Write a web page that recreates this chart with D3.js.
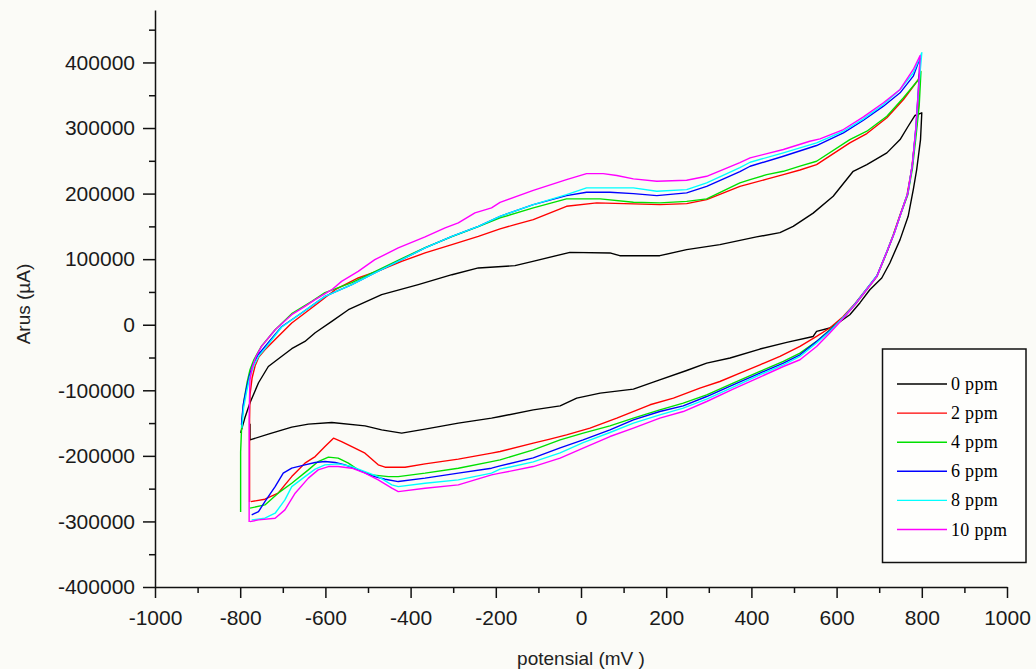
<!DOCTYPE html>
<html>
<head>
<meta charset="utf-8">
<script src="https://cdn.jsdelivr.net/npm/d3@7/dist/d3.min.js"></script>
<style>
  html, body { margin: 0; padding: 0; background: #fbfbf7; }
  svg { display: block; }
</style>
</head>
<body>
<svg id="chart" width="1036" height="669"></svg>
<script>
// Cyclic voltammograms: potential (mV) vs current (µA), one closed loop per concentration
const seriesNames = ["0 ppm", "2 ppm", "4 ppm", "6 ppm", "8 ppm", "10 ppm"];
const seriesColors = ["#000000", "#ff0000", "#00e000", "#0000ff", "#00ffff", "#ff00ff"];

const xTicks = [-1000, -800, -600, -400, -200, 0, 200, 400, 600, 800, 1000];
const xMinorTicks = [-900, -700, -500, -300, -100, 100, 300, 500, 700, 900];
const yTicks = [-400000, -300000, -200000, -100000, 0, 100000, 200000, 300000, 400000];
const yMinorTicks = [-350000, -250000, -150000, -50000, 50000, 150000, 250000, 350000, 450000];

// [potential mV, current µA]: forward scan, then reverse scan
const ppm0 = [[-799,-165000],[-789,-142000],[-777,-119000],[-757,-88500],[-734,-63700],[-707,-50400],[-679,-36600],[-648,-25500],[-624,-12200],[-585,5000],[-546,22900],[-468,45800],[-382,61100],[-303,76300],[-241,86600],[-155,90100],[-113,96600],[-26,110400],[68,109500],[91,105300],[185,105300],[248,114500],[326,122100],[412,133900],[467,140500],[498,150100],[545,170200],[592,195900],[639,234000],[671,244300],[718,262100],[749,282400],[768,302700],[784,319100],[800,323200],
  [797,282400],[788,236600],[780,206100],[768,165300],[749,129800],[725,94200],[706,71300],[678,53400],[655,33600],[631,15300],[608,4600],[584,-5000],[553,-10200],[545,-17900],[483,-27000],[420,-37100],[350,-50800],[295,-58500],[248,-69800],[178,-85500],[123,-98200],[45,-104300],[-10,-111900],[-49,-123700],[-112,-129800],[-190,-140000],[-210,-142400],[-288,-150100],[-366,-159200],[-421,-165300],[-468,-160300],[-507,-154200],[-585,-149200],[-640,-151600],[-679,-156200],[-734,-166900],[-777,-175600],[-777,-151100]];

const ppm2 = [[-778,-270200],[-778,-145000],[-777,-106900],[-772,-80900],[-765,-62600],[-756,-48900],[-742,-38200],[-711,-17900],[-679,2600],[-617,33100],[-577,53400],[-523,71300],[-468,84000],[-421,96600],[-366,109500],[-303,122100],[-241,134800],[-190,146100],[-155,152700],[-112,160300],[-34,180600],[37,185800],[123,184300],[185,183200],[248,184700],[295,190800],[373,211100],[397,215300],[436,222000],[475,229000],[514,236000],[553,244300],[631,277400],[671,291600],[718,315600],[757,343500],[792,374000],[796,386700],
  [792,330000],[784,282400],[776,236600],[765,196900],[749,167900],[733,137400],[718,111400],[694,73700],[669,53400],[643,32100],[615,12200],[584,-5000],[553,-17900],[514,-33100],[467,-48400],[420,-61100],[373,-73700],[326,-86600],[279,-96600],[217,-111900],[162,-122100],[84,-142400],[21,-157700],[-34,-167900],[-73,-174500],[-112,-180600],[-190,-193400],[-210,-195900],[-288,-205000],[-366,-212200],[-413,-217300],[-460,-217300],[-476,-213700],[-507,-195900],[-538,-185800],[-562,-178200],[-581,-173000],[-601,-185800],[-624,-201100],[-648,-211100],[-679,-231600],[-711,-256900],[-742,-266100],[-775,-269800]];

const ppm4 = [[-799,-285500],[-799,-193900],[-796,-145000],[-791,-114500],[-784,-88500],[-777,-68700],[-768,-53400],[-751,-33600],[-718,-7600],[-679,16800],[-632,35600],[-601,48900],[-538,64100],[-484,80900],[-421,100800],[-366,117600],[-303,134300],[-241,149600],[-190,162900],[-112,178200],[-34,191900],[45,191900],[123,186700],[185,185800],[248,188200],[295,191900],[373,216300],[397,221400],[436,229000],[475,234000],[514,242000],[553,249300],[631,282400],[671,295100],[718,318000],[757,346100],[796,376600],[798,386300],
  [794,335000],[786,285000],[778,238000],[767,198000],[750,168000],[734,138000],[719,112000],[695,74000],[670,53000],[644,31000],[616,11000],[584,-7600],[553,-25500],[514,-43200],[475,-56000],[420,-71300],[357,-89000],[295,-106900],[240,-119500],[185,-129800],[123,-142400],[68,-154200],[5,-165300],[-49,-175600],[-112,-190800],[-190,-206100],[-210,-208700],[-288,-218800],[-366,-226400],[-429,-231600],[-452,-231600],[-491,-229000],[-523,-221400],[-546,-211100],[-570,-203500],[-593,-202000],[-617,-208700],[-640,-221400],[-679,-241700],[-711,-256900],[-742,-274800],[-777,-279800]];

const ppm6 = [[-797,-152700],[-793,-122100],[-786,-99200],[-779,-79400],[-770,-61100],[-758,-45800],[-746,-36600],[-703,-3100],[-656,17900],[-601,43200],[-538,61100],[-484,78900],[-421,99200],[-366,117100],[-303,134800],[-241,150100],[-190,165300],[-112,183200],[-34,196900],[13,202000],[68,202000],[123,200000],[178,196900],[248,201100],[295,211100],[373,233600],[397,241700],[475,256900],[553,273300],[616,292700],[663,311900],[710,333300],[749,353700],[780,379100],[796,407200],
  [792,360000],[786,300000],[778,245000],[767,200000],[751,170000],[735,139000],[719,113000],[695,75000],[670,54000],[644,32000],[616,11000],[584,-8700],[553,-25500],[514,-45800],[475,-58500],[420,-73700],[357,-91600],[295,-109500],[240,-123700],[185,-132400],[123,-145000],[68,-160300],[5,-175600],[-49,-187800],[-112,-203100],[-190,-215300],[-210,-218800],[-288,-226400],[-366,-234000],[-429,-239200],[-460,-235600],[-491,-230500],[-523,-221400],[-554,-213700],[-577,-210200],[-601,-208700],[-624,-210200],[-648,-213700],[-679,-218800],[-699,-226400],[-718,-246900],[-742,-269800],[-757,-285000],[-773,-290100]];

const ppm8 = [[-796,-157300],[-792,-126700],[-785,-102300],[-778,-80900],[-768,-62600],[-756,-47300],[-744,-38200],[-703,-3800],[-656,17900],[-601,43200],[-538,61100],[-484,78900],[-421,99200],[-366,117100],[-303,134800],[-241,150100],[-190,165300],[-112,183200],[-34,198500],[13,208700],[123,208700],[178,203500],[248,206100],[295,216300],[373,239700],[397,247800],[475,262100],[553,277400],[616,295100],[663,314000],[710,335900],[749,358800],[780,384300],[800,414800],
  [794,370000],[787,305000],[779,250000],[768,203000],[752,172000],[736,141000],[720,115000],[696,76000],[671,55000],[645,33000],[617,12000],[584,-10200],[553,-27900],[514,-48400],[475,-61100],[420,-76300],[357,-95100],[295,-113400],[240,-127200],[185,-137400],[123,-150100],[68,-164400],[5,-179700],[-49,-195400],[-112,-209200],[-190,-220300],[-210,-226400],[-288,-236600],[-366,-241700],[-429,-246900],[-444,-244300],[-476,-231600],[-507,-224000],[-538,-216300],[-570,-212200],[-601,-213700],[-624,-220300],[-648,-231600],[-679,-246900],[-695,-267200],[-718,-287500],[-742,-295100],[-773,-297700]];

const ppm10 = [[-779,-300800],[-779,-145000],[-778,-106900],[-777,-84000],[-772,-65600],[-763,-48900],[-750,-33100],[-718,-7600],[-679,15300],[-648,27900],[-624,38200],[-585,53400],[-562,66100],[-523,81400],[-484,99200],[-429,117100],[-366,133900],[-319,147600],[-288,155300],[-249,170500],[-210,178200],[-190,186700],[-112,205000],[-34,221400],[13,230500],[52,230500],[84,227500],[123,222400],[178,218800],[248,220300],[295,226400],[373,247300],[397,254500],[475,267200],[537,279800],[561,283500],[616,297700],[663,317100],[710,338500],[749,358800],[780,389300],[796,410700],
  [793,365000],[786,300000],[778,245000],[767,200000],[751,170000],[735,139000],[719,113000],[695,74000],[670,53000],[644,31000],[616,10000],[584,-12700],[553,-33100],[514,-53400],[475,-63700],[420,-79800],[357,-98200],[295,-117100],[240,-132400],[185,-142400],[123,-157700],[68,-170500],[5,-188200],[-49,-203500],[-112,-216300],[-190,-226400],[-210,-229000],[-288,-244300],[-366,-249300],[-429,-254500],[-444,-249300],[-476,-236600],[-507,-226400],[-538,-218800],[-570,-216300],[-593,-216300],[-617,-221400],[-640,-234000],[-671,-256900],[-695,-282400],[-718,-295100],[-757,-297700],[-777,-300300]];

const allSeries = [ppm0, ppm2, ppm4, ppm6, ppm8, ppm10];

const svg = d3.select("#chart");
const x = d3.scaleLinear().domain([-1000, 1000]).range([155, 1007]);
const y = d3.scaleLinear().domain([-400000, 480000]).range([587, 10]);

const tickFont = "'Liberation Sans', Arial, sans-serif";

// x axis
svg.append("g").attr("transform", "translate(0,587)")
  .call(d3.axisBottom(x).tickValues(xTicks).tickSize(11).tickPadding(12).tickSizeOuter(0)
    .tickFormat(d => String(d)));
svg.append("g").attr("transform", "translate(0,587)")
  .call(d3.axisBottom(x).tickValues(xMinorTicks).tickSize(6).tickFormat(""))
  .call(g => g.select(".domain").remove());

// y axis
svg.append("g").attr("transform", "translate(155,0)")
  .call(d3.axisLeft(y).tickValues(yTicks).tickSize(12).tickPadding(8).tickSizeOuter(0)
    .tickFormat(d => String(d)));
svg.append("g").attr("transform", "translate(155,0)")
  .call(d3.axisLeft(y).tickValues(yMinorTicks).tickSize(6).tickFormat(""))
  .call(g => g.select(".domain").remove());

svg.selectAll(".domain, .tick line").attr("stroke", "#111").attr("stroke-width", 1.5);
svg.selectAll(".tick text").attr("font-family", tickFont).attr("font-size", 21).attr("fill", "#1a1a1a");

// axis titles
svg.append("text").attr("x", 581).attr("y", 665).attr("text-anchor", "middle")
  .attr("font-family", tickFont).attr("font-size", 19).attr("fill", "#222")
  .text("potensial (mV )");
svg.append("text").attr("transform", "translate(30,304) rotate(-90)").attr("text-anchor", "middle")
  .attr("font-family", tickFont).attr("font-size", 19).attr("fill", "#222")
  .text("Arus (µA)");

// voltammogram loops
const line = d3.line().x(d => x(d[0])).y(d => y(d[1]));
svg.append("g").selectAll("path").data(allSeries).join("path")
  .attr("d", line)
  .attr("fill", "none")
  .attr("stroke", (d, i) => seriesColors[i])
  .attr("stroke-width", 1.4)
  .attr("stroke-linejoin", "round");

// legend
const lg = svg.append("g");
lg.append("rect").attr("x", 882.5).attr("y", 349).attr("width", 143.5).attr("height", 213.5)
  .attr("fill", "#fefefc").attr("stroke", "#111").attr("stroke-width", 1.5);
seriesNames.forEach((name, i) => {
  const ly = 384 + i * 29.1;
  lg.append("line").attr("x1", 897).attr("x2", 947).attr("y1", ly).attr("y2", ly)
    .attr("stroke", seriesColors[i]).attr("stroke-width", 1.4);
  lg.append("text").attr("x", 951).attr("y", ly + 6)
    .attr("font-family", "'Liberation Serif', 'Times New Roman', serif")
    .attr("font-size", 18).attr("letter-spacing", 0.3).attr("fill", "#000")
    .text(name);
});
</script>
</body>
</html>
